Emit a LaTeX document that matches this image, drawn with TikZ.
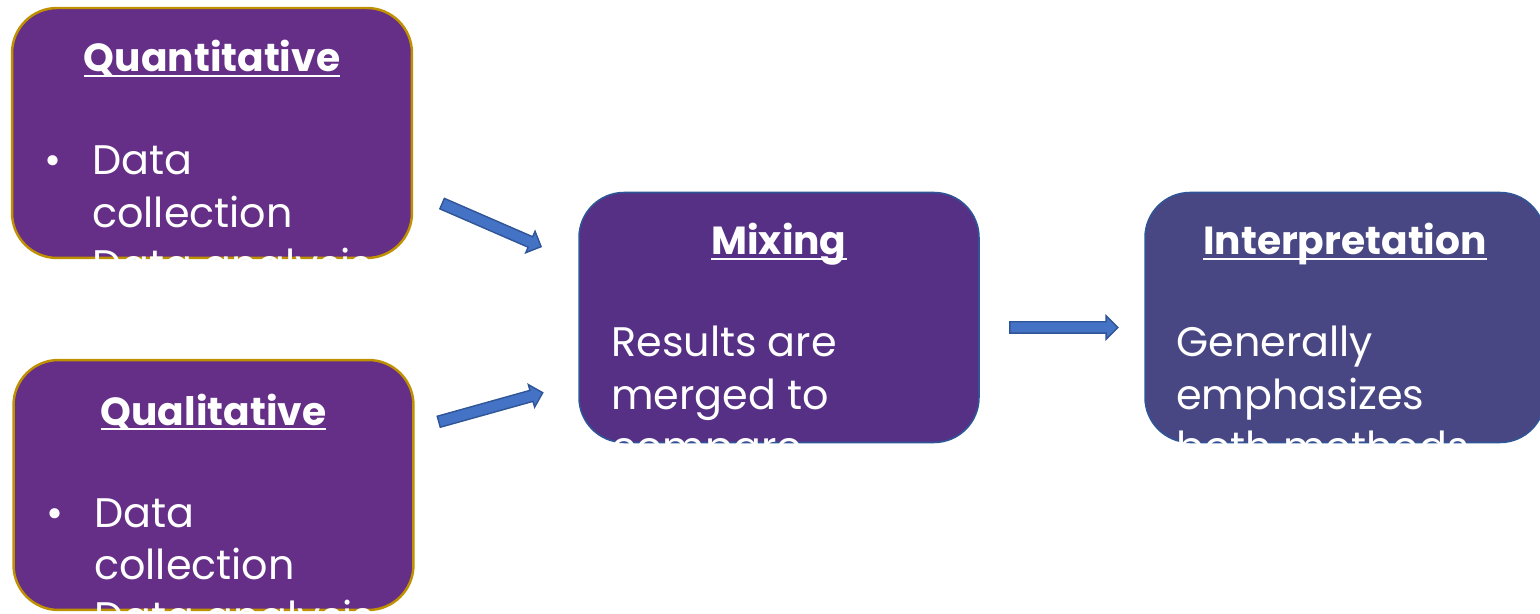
\documentclass[tikz,border=0pt]{standalone}
\usepackage{fontspec}
\setmainfont{Poppins}
\usepackage{tikz}
\usetikzlibrary{positioning, shapes.arrows}

\definecolor{quantfill}{HTML}{652E87}
\definecolor{mixfill}{HTML}{553084}
\definecolor{interpfill}{HTML}{484783}
\definecolor{goldedge}{HTML}{BF9000}
\definecolor{blueedge}{HTML}{2F5597}
\definecolor{arrowfill}{HTML}{4472C4}

\newcommand{\headline}[1]{\setbox0\hbox{#1}\rlap{\rule[-0.12em]{\wd0}{0.05em}}\box0}

\begin{document}
\begin{tikzpicture}[
    x=0.02cm, y=-0.02cm,
    stage/.style={rectangle, rounded corners=0.9cm, minimum width=8cm, minimum height=5cm, inner sep=0pt},
    method/.style={stage, fill=quantfill, draw=goldedge, line width=1.4pt},
    result/.style={stage, draw=blueedge, line width=0.9pt},
    title/.style={text=white, font=\fontsize{22.3}{29.6}\selectfont\bfseries, anchor=base, inner sep=0pt},
    body/.style={text=white, font=\fontsize{23.5}{29.6}\selectfont, anchor=base west, inner sep=0pt},
    blockarrow/.style={single arrow, fill=arrowfill, draw=blueedge, line width=0.8pt, inner xsep=0pt, inner ysep=0.1cm, single arrow head extend=0.12cm}
]
    \useasboundingbox (0,0) rectangle (1540,614);

    % boxes
    \node[method] (quant) at (212,133) {};
    \node[method] (qual) at (213.5,485) {};
    \node[result, fill=mixfill] (mix) at (779,317.5) {};
    \node[result, fill=interpfill] (interp) at (1345,317.5) {};

    % texts, cut at the bottom of each box
    \begin{scope}
        \clip (quant.north west) rectangle ([yshift=-1.5pt]quant.south east);
        \node[title] (quantTitle) at (212,72) {\headline{Quantitative}};
        \node[body] (quantBody) at (44,175) {\begin{tabular}[t]{@{}p{0.96cm}@{}l@{}}\textbullet & Data\\ & collection\\ \textbullet & Data analysis\end{tabular}};
    \end{scope}
    \begin{scope}
        \clip (qual.north west) rectangle ([yshift=-1.5pt]qual.south east);
        \node[title] (qualTitle) at (213.5,425) {\headline{Qualitative}};
        \node[body] (qualBody) at (46,527) {\begin{tabular}[t]{@{}p{0.96cm}@{}l@{}}\textbullet & Data\\ & collection\\ \textbullet & Data analysis\end{tabular}};
    \end{scope}
    \begin{scope}
        \clip (mix.north west) rectangle ([yshift=-1.5pt]mix.south east);
        \node[title] (mixTitle) at (779,255) {\headline{Mixing}};
        \node[body] (mixBody) at (611,357) {\begin{tabular}[t]{@{}l@{}}Results are\\ merged to\\ compare\end{tabular}};
    \end{scope}
    \begin{scope}
        \clip (interp.north west) rectangle ([yshift=-1.5pt]interp.south east);
        \node[title] (interpTitle) at (1345,255) {\headline{Interpretation}};
        \node[body] (interpBody) at (1176,357) {\begin{tabular}[t]{@{}l@{}}Generally\\ emphasizes\\ both methods\end{tabular}};
    \end{scope}

    % arrows
    \node[blockarrow, minimum height=2.16cm, rotate=-23.5] (quantArrow) at (489,224) {};
    \node[blockarrow, minimum height=2.16cm, rotate=15.6] (qualArrow) at (488,408) {};
    \node[blockarrow, minimum height=2.16cm] (mixArrow) at (1061,327.5) {};
\end{tikzpicture}
\end{document}
